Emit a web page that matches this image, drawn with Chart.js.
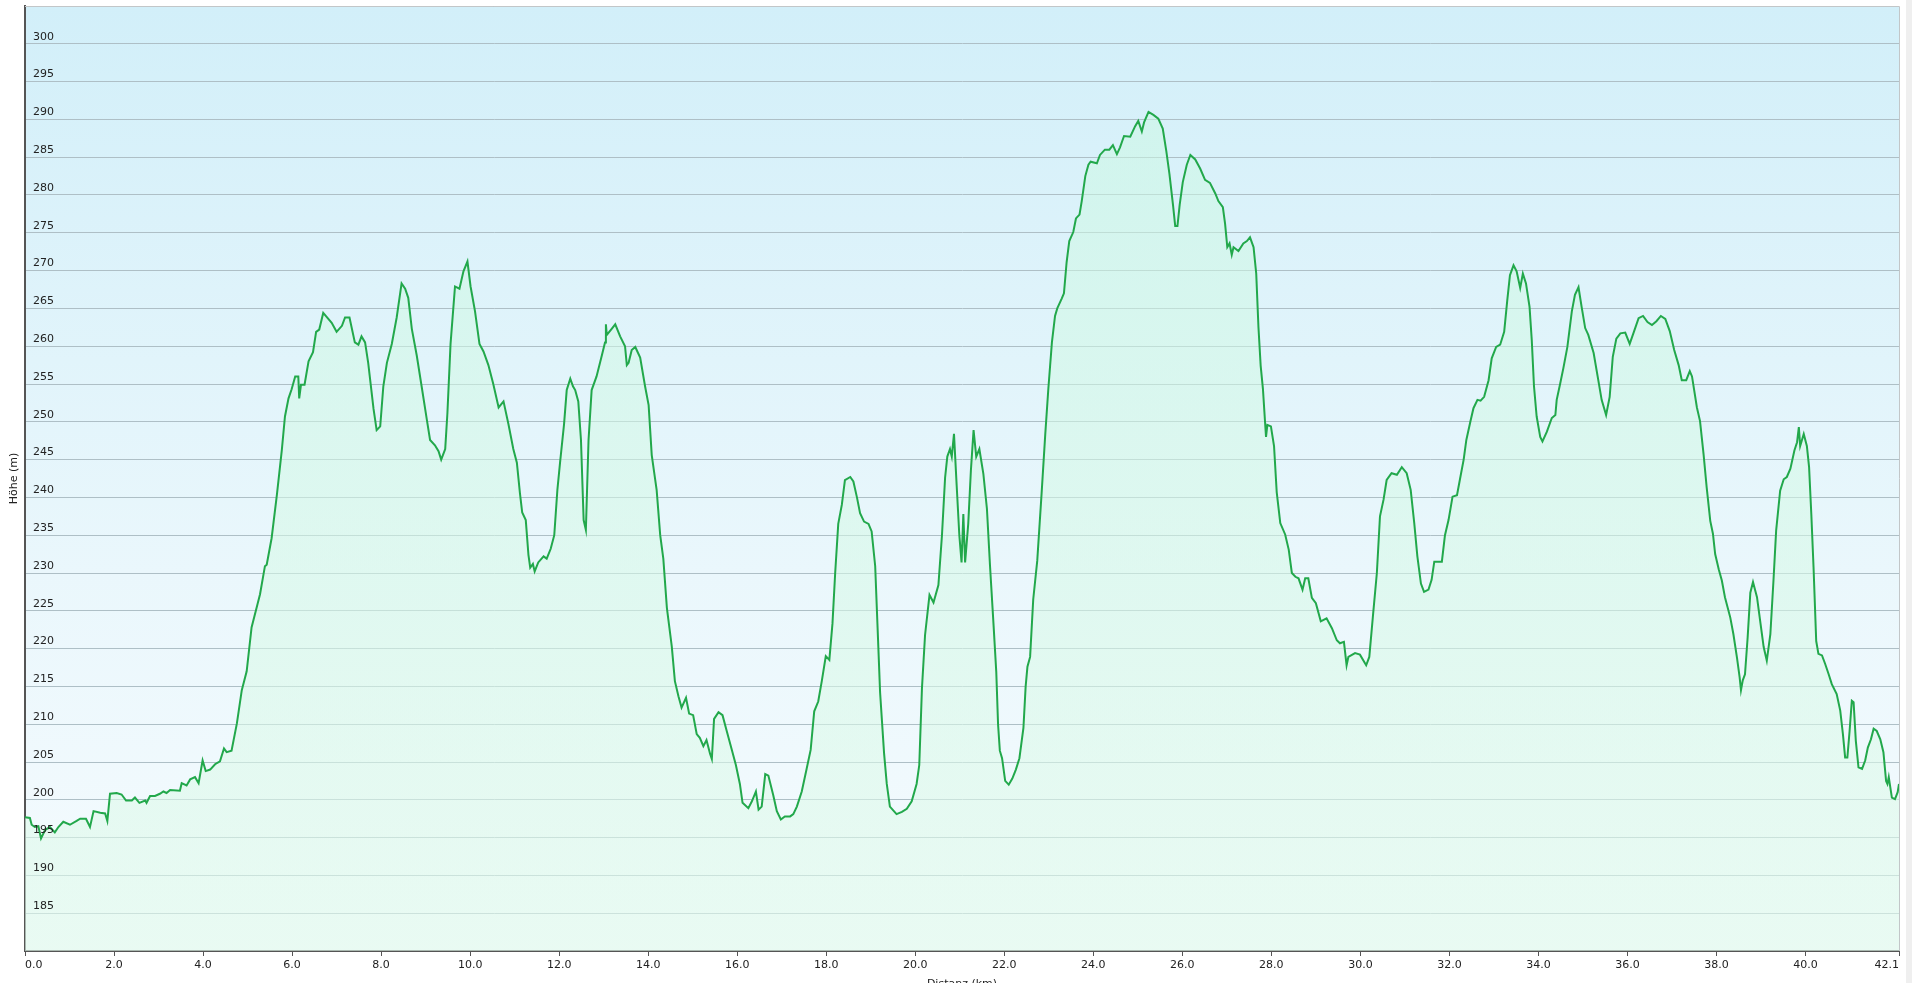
<!DOCTYPE html>
<html>
<head>
<meta charset="utf-8">
<title>Höhenprofil</title>
<script src="https://cdn.jsdelivr.net/npm/chart.js@4.4.0/dist/chart.umd.min.js"></script>
<style>
  html, body { margin: 0; padding: 0; overflow: hidden; }
  body { background: linear-gradient(to right, #ffffff 1906px, #efefef 1906px); }
  #wrap { position: relative; width: 1912px; height: 1000px; }
</style>
</head>
<body>
<div id="wrap"><canvas id="profile"></canvas></div>
<script>
// distance along the route (km) and elevation (m)
const distKm = [
  0.00, 0.11, 0.15, 0.22, 0.30, 0.36, 0.45, 0.56, 0.67, 0.75, 0.86, 1.01, 1.16, 1.24, 1.37, 1.46, 1.54, 1.69, 1.80, 1.85,
  1.91, 2.06, 2.17, 2.27, 2.40, 2.47, 2.57, 2.70, 2.73, 2.81, 2.92, 3.03, 3.11, 3.18, 3.26, 3.48, 3.52, 3.63, 3.71, 3.82,
  3.90, 3.99, 4.06, 4.16, 4.27, 4.38, 4.47, 4.53, 4.64, 4.76, 4.87, 4.98, 5.09, 5.22, 5.28, 5.39, 5.43, 5.54, 5.66, 5.77,
  5.84, 5.92, 5.99, 6.07, 6.14, 6.16, 6.20, 6.28, 6.37, 6.47, 6.54, 6.61, 6.70, 6.89, 7.00, 7.12, 7.19, 7.29, 7.41, 7.49,
  7.56, 7.64, 7.71, 7.83, 7.90, 7.98, 8.05, 8.13, 8.24, 8.35, 8.46, 8.54, 8.61, 8.69, 8.80, 8.91, 9.03, 9.10, 9.21, 9.29,
  9.35, 9.44, 9.49, 9.56, 9.66, 9.76, 9.85, 9.94, 10.01, 10.11, 10.21, 10.30, 10.41, 10.52, 10.64, 10.75, 10.86, 10.97, 11.05, 11.12,
  11.17, 11.25, 11.31, 11.35, 11.41, 11.45, 11.53, 11.65, 11.72, 11.81, 11.89, 11.96, 12.02, 12.11, 12.17, 12.25, 12.31, 12.36, 12.43, 12.49,
  12.55, 12.60, 12.66, 12.73, 12.84, 12.96, 13.03, 13.05, 13.07, 13.18, 13.26, 13.37, 13.48, 13.52, 13.56, 13.63, 13.71, 13.82, 13.93, 14.01,
  14.08, 14.19, 14.27, 14.34, 14.42, 14.53, 14.60, 14.68, 14.75, 14.85, 14.92, 15.01, 15.09, 15.16, 15.24, 15.31, 15.39, 15.43, 15.48, 15.58,
  15.67, 15.76, 15.88, 15.97, 16.06, 16.12, 16.25, 16.33, 16.42, 16.48, 16.55, 16.63, 16.70, 16.81, 16.89, 16.98, 17.07, 17.19, 17.26, 17.34,
  17.45, 17.56, 17.65, 17.73, 17.82, 17.90, 17.99, 18.07, 18.14, 18.20, 18.27, 18.35, 18.42, 18.54, 18.61, 18.69, 18.76, 18.85, 18.95, 19.02,
  19.10, 19.15, 19.21, 19.30, 19.36, 19.43, 19.58, 19.70, 19.81, 19.92, 20.03, 20.09, 20.15, 20.22, 20.32, 20.41, 20.52, 20.60, 20.67, 20.72,
  20.78, 20.82, 20.87, 20.93, 20.99, 21.04, 21.08, 21.12, 21.19, 21.25, 21.31, 21.37, 21.44, 21.53, 21.61, 21.68, 21.76, 21.82, 21.86, 21.90,
  21.95, 22.02, 22.10, 22.18, 22.26, 22.34, 22.43, 22.48, 22.52, 22.58, 22.65, 22.74, 22.84, 22.92, 22.99, 23.07, 23.14, 23.19, 23.29, 23.34,
  23.40, 23.46, 23.55, 23.61, 23.69, 23.74, 23.82, 23.89, 23.94, 24.08, 24.15, 24.26, 24.36, 24.44, 24.53, 24.60, 24.69, 24.83, 24.94, 25.01,
  25.09, 25.14, 25.24, 25.35, 25.46, 25.56, 25.64, 25.71, 25.79, 25.84, 25.89, 25.94, 26.01, 26.10, 26.18, 26.29, 26.40, 26.51, 26.62, 26.74,
  26.81, 26.91, 26.96, 27.01, 27.06, 27.11, 27.15, 27.26, 27.37, 27.45, 27.52, 27.60, 27.66, 27.71, 27.76, 27.81, 27.86, 27.88, 27.91, 27.99,
  28.06, 28.12, 28.20, 28.31, 28.39, 28.46, 28.54, 28.61, 28.70, 28.76, 28.83, 28.91, 29.00, 29.11, 29.24, 29.36, 29.47, 29.54, 29.63, 29.69,
  29.73, 29.88, 29.99, 30.13, 30.20, 30.28, 30.37, 30.44, 30.52, 30.59, 30.70, 30.82, 30.93, 31.04, 31.13, 31.21, 31.28, 31.36, 31.43, 31.53,
  31.60, 31.66, 31.83, 31.90, 31.98, 32.07, 32.17, 32.24, 32.32, 32.38, 32.47, 32.54, 32.63, 32.70, 32.78, 32.88, 32.95, 33.05, 33.14, 33.23,
  33.30, 33.36, 33.44, 33.51, 33.59, 33.65, 33.72, 33.80, 33.85, 33.90, 33.96, 34.04, 34.09, 34.19, 34.30, 34.38, 34.41, 34.49, 34.56, 34.65,
  34.75, 34.82, 34.90, 34.97, 35.05, 35.12, 35.24, 35.33, 35.42, 35.52, 35.60, 35.67, 35.75, 35.84, 35.95, 36.05, 36.15, 36.25, 36.35, 36.45,
  36.55, 36.65, 36.75, 36.85, 36.95, 37.05, 37.15, 37.22, 37.32, 37.40, 37.45, 37.56, 37.63, 37.71, 37.78, 37.86, 37.92, 37.97, 38.05, 38.12,
  38.19, 38.31, 38.38, 38.46, 38.52, 38.55, 38.59, 38.64, 38.70, 38.76, 38.82, 38.91, 38.98, 39.06, 39.13, 39.21, 39.28, 39.34, 39.43, 39.51,
  39.58, 39.66, 39.75, 39.81, 39.85, 39.88, 39.96, 40.03, 40.08, 40.13, 40.18, 40.24, 40.29, 40.37, 40.44, 40.52, 40.59, 40.70, 40.78, 40.84,
  40.89, 40.94, 40.99, 41.04, 41.08, 41.13, 41.19, 41.27, 41.34, 41.40, 41.47, 41.53, 41.60, 41.68, 41.75, 41.81, 41.84, 41.87, 41.94, 42.01,
  42.07, 42.10
];
const elevation = [
  197.7, 197.6, 196.7, 196.4, 196.5, 194.9, 196.0, 196.4, 195.7, 196.4, 197.1, 196.7, 197.2, 197.5, 197.5, 196.4, 198.5, 198.3, 198.2, 197.2,
  200.8, 200.9, 200.7, 199.9, 199.9, 200.3, 199.6, 199.9, 199.6, 200.5, 200.5, 200.8, 201.1, 200.9, 201.3, 201.2, 202.2, 201.9, 202.7, 203.0,
  202.2, 205.2, 203.8, 204.0, 204.7, 205.1, 206.8, 206.3, 206.5, 210.1, 214.5, 217.0, 222.8, 225.8, 227.2, 230.9, 231.1, 234.6, 240.4, 246.3,
  250.7, 253.1, 254.3, 256.0, 256.0, 253.1, 254.9, 254.9, 258.0, 259.2, 261.9, 262.2, 264.4, 263.1, 261.9, 262.7, 263.8, 263.8, 260.5, 260.2,
  261.3, 260.5, 257.8, 251.7, 248.9, 249.4, 254.7, 257.8, 260.3, 263.8, 268.3, 267.6, 266.4, 262.3, 258.8, 254.7, 250.2, 247.6, 246.9, 246.1,
  245.0, 246.4, 251.2, 260.3, 267.9, 267.6, 269.9, 271.2, 267.9, 264.6, 260.3, 259.3, 257.5, 255.0, 251.9, 252.7, 249.7, 246.4, 244.6, 240.5,
  238.0, 237.0, 232.4, 230.7, 231.2, 230.2, 231.4, 232.2, 231.9, 233.2, 235.0, 241.0, 244.6, 249.7, 254.2, 255.7, 254.7, 254.2, 252.7, 247.6,
  237.0, 235.7, 247.6, 254.2, 256.0, 258.8, 260.5, 262.9, 261.5, 262.3, 262.9, 261.3, 260.0, 257.5, 257.8, 259.5, 259.9, 258.5, 254.7, 252.2,
  245.6, 241.0, 235.0, 231.9, 225.4, 220.3, 215.7, 213.7, 212.2, 213.5, 211.4, 211.2, 208.7, 208.2, 207.1, 207.9, 206.1, 205.4, 210.7, 211.6,
  211.2, 209.2, 206.6, 204.6, 202.1, 199.6, 198.9, 199.8, 201.1, 198.7, 199.1, 203.4, 203.2, 200.6, 198.5, 197.4, 197.8, 197.8, 198.1, 199.1,
  201.1, 204.1, 206.6, 211.7, 213.0, 215.7, 219.0, 218.5, 223.3, 229.9, 236.5, 239.0, 242.3, 242.7, 242.1, 240.0, 237.9, 236.8, 236.5, 235.5,
  230.9, 223.3, 214.2, 206.1, 202.1, 199.1, 198.1, 198.4, 198.8, 199.8, 202.1, 204.6, 214.7, 221.8, 227.1, 226.1, 228.4, 235.0, 242.6, 245.4,
  246.4, 245.4, 248.4, 241.6, 235.0, 231.4, 237.8, 231.4, 236.5, 243.6, 248.9, 245.4, 246.4, 243.1, 238.5, 230.9, 223.0, 216.9, 210.0, 206.5,
  205.5, 202.5, 202.0, 202.8, 204.0, 205.5, 209.5, 215.0, 217.6, 218.9, 226.5, 231.6, 240.7, 248.3, 254.4, 260.5, 264.0, 265.0, 266.3, 267.0,
  271.1, 273.9, 275.1, 276.9, 277.4, 279.2, 282.5, 284.0, 284.4, 284.2, 285.3, 286.0, 286.0, 286.6, 285.4, 286.3, 287.8, 287.7, 289.1, 289.8,
  288.4, 289.6, 291.0, 290.6, 290.1, 288.8, 285.8, 282.8, 278.7, 275.9, 275.9, 278.7, 281.7, 284.0, 285.3, 284.7, 283.5, 282.0, 281.6, 280.2,
  279.2, 278.4, 276.2, 273.1, 273.6, 272.1, 273.1, 272.6, 273.6, 273.9, 274.4, 273.1, 269.6, 262.5, 257.4, 254.4, 249.8, 248.0, 249.6, 249.4,
  246.8, 240.7, 236.6, 235.1, 233.1, 230.0, 229.5, 229.3, 227.8, 229.3, 229.3, 226.7, 226.0, 223.6, 224.0, 222.7, 221.1, 220.7, 220.9, 217.8,
  218.9, 219.4, 219.2, 217.8, 218.9, 224.2, 230.0, 237.5, 239.7, 242.3, 243.2, 243.0, 244.0, 243.2, 241.0, 236.6, 232.2, 228.6, 227.5, 227.8,
  229.1, 231.5, 231.5, 235.0, 237.0, 240.1, 240.3, 242.5, 245.0, 247.6, 250.0, 251.8, 252.9, 252.8, 253.3, 255.5, 258.4, 259.9, 260.2, 261.9,
  266.1, 269.4, 270.7, 269.9, 267.7, 269.6, 268.3, 265.2, 260.8, 254.7, 250.7, 248.0, 247.4, 248.7, 250.5, 250.9, 252.9, 255.1, 257.1, 259.9,
  264.6, 266.8, 267.8, 265.2, 262.4, 261.5, 259.1, 256.0, 252.9, 250.9, 253.3, 258.6, 261.0, 261.7, 261.8, 260.3, 262.0, 263.7, 264.0, 263.2,
  262.8, 263.3, 264.0, 263.6, 262.0, 259.5, 257.5, 255.5, 255.5, 256.7, 256.0, 251.9, 250.1, 245.7, 241.3, 236.9, 235.2, 232.5, 230.5, 229.0,
  226.8, 224.1, 221.9, 218.8, 216.2, 214.5, 215.8, 216.6, 221.5, 227.4, 228.8, 226.8, 223.7, 220.2, 218.4, 221.9, 229.0, 235.6, 240.9, 242.4,
  242.7, 243.8, 246.2, 247.3, 249.3, 246.8, 248.4, 246.8, 244.0, 237.8, 230.8, 221.0, 219.3, 219.1, 218.0, 216.6, 215.3, 214.0, 211.8, 208.7,
  205.6, 205.6, 209.1, 213.1, 212.9, 207.8, 204.3, 204.1, 205.2, 206.9, 208.0, 209.4, 209.1, 208.0, 206.3, 202.5, 202.1, 203.0, 200.3, 200.1,
  201.0, 202.1
];

const xTickValues = [0, 2, 4, 6, 8, 10, 12, 14, 16, 18, 20, 22, 24, 26, 28, 30, 32, 34, 36, 38, 40, 42.1];
const yTickValues = [180, 185, 190, 195, 200, 205, 210, 215, 220, 225, 230, 235, 240, 245, 250, 255, 260, 265, 270, 275, 280, 285, 290, 295, 300, 305];
const yLabelValues = [185, 190, 195, 200, 205, 210, 215, 220, 225, 230, 235, 240, 245, 250, 255, 260, 265, 270, 275, 280, 285, 290, 295, 300];

Chart.defaults.font.family = '"DejaVu Sans", Verdana, sans-serif';
Chart.defaults.font.size = 11;
Chart.defaults.color = '#222';

// sky-like background of the plot area plus the thin light frame on top / right
const plotFrame = {
  id: 'plotFrame',
  beforeDraw(chart) {
    const { ctx, chartArea: a } = chart;
    if (!a) return;
    const g = ctx.createLinearGradient(0, a.top, 0, a.bottom);
    g.addColorStop(0, '#d2eff9');
    g.addColorStop(0.6, '#eaf7fc');
    g.addColorStop(1, '#f5fbfe');
    ctx.save();
    ctx.fillStyle = g;
    ctx.fillRect(a.left, a.top, a.right - a.left, a.bottom - a.top);
    ctx.restore();
  },
  afterDraw(chart) {
    const { ctx, chartArea: a } = chart;
    ctx.save();
    ctx.strokeStyle = '#c2c6c8';
    ctx.lineWidth = 1;
    ctx.beginPath();
    ctx.moveTo(a.left, a.top + 0.5);
    ctx.lineTo(a.right + 0.5, a.top + 0.5);
    ctx.lineTo(a.right + 0.5, a.bottom);
    ctx.stroke();
    ctx.restore();
  }
};

function areaFill(context) {
  const { chart } = context;
  const a = chart.chartArea;
  if (!a) return 'rgba(210,245,230,0.5)';
  const g = chart.ctx.createLinearGradient(0, a.top, 0, a.bottom);
  g.addColorStop(0, 'rgba(200,248,225,0.5)');
  g.addColorStop(1, 'rgba(225,250,235,0.6)');
  return g;
}

new Chart(document.getElementById('profile'), {
  type: 'line',
  data: {
    datasets: [{
      label: 'Höhe',
      data: distKm.map((d, i) => ({ x: d, y: elevation[i] })),
      borderColor: '#22a84b',
      borderWidth: 2,
      backgroundColor: areaFill,
      fill: 'start',
      pointRadius: 0,
      tension: 0
    }]
  },
  options: {
    responsive: true,
    maintainAspectRatio: false,
    animation: false,
    devicePixelRatio: 1,
    layout: { padding: { top: 6, right: 13, left: 0, bottom: 0 } },
    plugins: {
      legend: { display: false },
      tooltip: { enabled: false }
    },
    scales: {
      x: {
        type: 'linear',
        min: 0,
        max: 42.1,
        afterBuildTicks: (scale) => { scale.ticks = xTickValues.map(v => ({ value: v })); },
        afterFit: (scale) => { scale.height = 49; scale.paddingLeft = 0; scale.paddingRight = 0; },
        ticks: {
          autoSkip: false,
          maxRotation: 0,
          padding: 3,
          align: 'inner',
          color: '#222',
          callback: (v) => Number(v).toFixed(1)
        },
        grid: { drawOnChartArea: false, drawTicks: true, tickLength: 5, tickColor: '#555', tickWidth: 1 },
        border: { display: true, color: '#555', width: 2 },
        title: { display: true, text: 'Distanz (km)', color: '#222', padding: { top: 0, bottom: 9 } }
      },
      y: {
        min: 180,
        max: 305,
        afterBuildTicks: (scale) => { scale.ticks = yTickValues.map(v => ({ value: v })); },
        afterFit: (scale) => { scale.width = 25; scale.paddingTop = 0; scale.paddingBottom = 0; },
        ticks: {
          mirror: true,
          padding: 8,
          labelOffset: -7,
          z: 1,
          color: '#222',
          callback: (v) => yLabelValues.includes(v) ? String(v) : ''
        },
        grid: { color: '#aebfc6', lineWidth: 1, drawTicks: false },
        border: { display: true, color: '#555', width: 2 },
        title: { display: true, text: 'Höhe (m)', color: '#222', padding: { top: 8, bottom: 0 } }
      }
    }
  },
  plugins: [plotFrame]
});
</script>
</body>
</html>
